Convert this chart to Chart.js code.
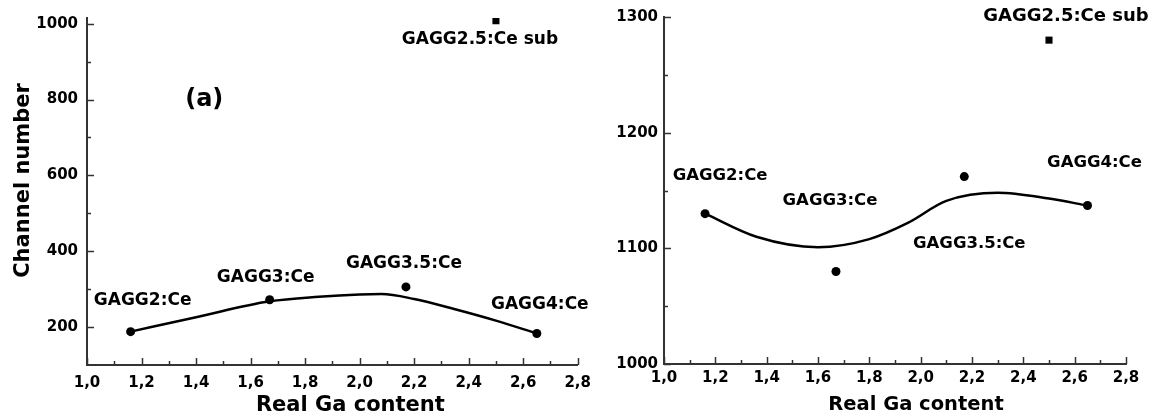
<!DOCTYPE html>
<html>
<head>
<meta charset="utf-8">
<script src="https://cdn.jsdelivr.net/npm/chart.js@4.4.1/dist/chart.umd.min.js"></script>
<style>
  body { margin: 0; background: #fff; }
  .wrap { position: relative; width: 1156px; height: 419px; }
  .panel { position: absolute; top: 0; }
  #panelA { left: 0; }
  #panelB { left: 600px; }
</style>
</head>
<body>
<div class="wrap">
  <div class="panel" id="panelA"><canvas id="chartA" width="600" height="419"></canvas></div>
  <div class="panel" id="panelB"><canvas id="chartB" width="556" height="419"></canvas></div>
</div>
<script>
// samples and their real Ga content
const gaContent = [1.16, 1.67, 2.17, 2.65];
const sampleNames = ['GAGG2:Ce', 'GAGG3:Ce', 'GAGG3.5:Ce', 'GAGG4:Ce'];
const subName = 'GAGG2.5:Ce sub';
const subGa = 2.5;

// panel (a): channel numbers
const channelA = [188, 272, 306, 183];
const subChannelA = 1008;
const fitGaA = [1.16, 1.4, 1.67, 1.85, 2.0, 2.08, 2.2, 2.35, 2.5, 2.65];
const fitChannelA = [188, 226, 268, 280, 286, 287, 274, 247, 217, 183];

// panel (b): channel numbers
const channelB = [1130, 1080, 1162, 1137];
const subChannelB = 1280;
const fitGaB = [1.16, 1.36, 1.6, 1.8, 1.95, 2.1, 2.3, 2.5, 2.65];
const fitChannelB = [1130, 1110, 1101, 1108, 1122, 1141, 1148, 1143, 1137];

// tick labels
const xTicks = [1.0, 1.2, 1.4, 1.6, 1.8, 2.0, 2.2, 2.4, 2.6, 2.8];
const yTicksA = [200, 400, 600, 800, 1000];
const yTicksB = [1000, 1100, 1200, 1300];

const FONT = '"DejaVu Sans", "Liberation Sans", Arial, sans-serif';

// inward major/minor tick marks on the bottom and left axes
const axisMarks = {
  id: 'axisMarks',
  afterDraw(chart) {
    const { ctx, chartArea: area, scales } = chart;
    ctx.save();
    ctx.strokeStyle = '#333';
    ctx.lineWidth = 1.5;
    ctx.beginPath();
    const xs = scales.x.ticks.map(t => t.value);
    xs.forEach((v, i) => {
      const px = Math.round(scales.x.getPixelForValue(v)) + 0.5;
      ctx.moveTo(px, area.bottom);
      ctx.lineTo(px, area.bottom - 7);
      if (i < xs.length - 1) {
        const mx = Math.round(scales.x.getPixelForValue((v + xs[i + 1]) / 2)) + 0.5;
        ctx.moveTo(mx, area.bottom);
        ctx.lineTo(mx, area.bottom - 4);
      }
    });
    const ys = scales.y.ticks.map(t => t.value);
    ys.forEach((v, i) => {
      const py = Math.round(scales.y.getPixelForValue(v)) + 0.5;
      ctx.moveTo(area.left, py);
      ctx.lineTo(area.left + 7, py);
      if (i < ys.length - 1) {
        const my = Math.round(scales.y.getPixelForValue((v + ys[i + 1]) / 2)) + 0.5;
        ctx.moveTo(area.left, my);
        ctx.lineTo(area.left + 4, my);
      }
    });
    ctx.stroke();
    ctx.restore();
  }
};

// axis titles, placed by hand relative to the plot area
const axisTitles = {
  id: 'axisTitles',
  afterDraw(chart, args, opts) {
    const { ctx, chartArea: area } = chart;
    ctx.save();
    ctx.fillStyle = '#000';
    ctx.textAlign = 'center';
    ctx.textBaseline = 'middle';
    ctx.font = 'bold ' + opts.xSize + 'px ' + FONT;
    ctx.fillText('Real Ga content', (area.left + area.right) / 2 + opts.xShift, opts.xY);
    if (opts.yText) {
      ctx.translate(opts.yX, (area.top + area.bottom) / 2 + opts.yShift);
      ctx.rotate(-Math.PI / 2);
      ctx.font = 'bold 21px ' + FONT;
      ctx.fillText(opts.yText, 0, 0);
    }
    ctx.restore();
  }
};

// sample names next to each point
const sampleLabels = {
  id: 'sampleLabels',
  afterDatasetsDraw(chart, args, opts) {
    const { ctx } = chart;
    ctx.save();
    ctx.fillStyle = '#000';
    ctx.textAlign = 'center';
    ctx.textBaseline = 'middle';
    ctx.font = 'bold ' + opts.size + 'px ' + FONT;
    chart.getDatasetMeta(1).data.forEach((p, i) => {
      ctx.fillText(sampleNames[i], p.x + opts.offsets[i][0], p.y + opts.offsets[i][1]);
    });
    const sq = chart.getDatasetMeta(2).data[0];
    ctx.font = 'bold ' + opts.subSize + 'px ' + FONT;
    ctx.fillText(subName, sq.x + opts.subOffset[0], sq.y + opts.subOffset[1]);
    if (opts.tag) {
      ctx.font = 'bold 24px ' + FONT;
      const tx = chart.scales.x.getPixelForValue(opts.tag.x);
      const ty = chart.scales.y.getPixelForValue(opts.tag.y);
      ctx.fillText(opts.tag.text, tx, ty);
    }
    ctx.restore();
  }
};

function makePanel(id, p) {
  return new Chart(document.getElementById(id), {
    type: 'scatter',
    data: {
      datasets: [
        {
          data: p.fitX.map((x, i) => ({ x: x, y: p.fitY[i] })),
          showLine: true,
          borderColor: '#000',
          borderWidth: 2.5,
          pointRadius: 0,
          cubicInterpolationMode: 'monotone'
        },
        {
          data: gaContent.map((x, i) => ({ x: x, y: p.channel[i] })),
          pointStyle: 'circle',
          pointRadius: 4.5,
          backgroundColor: '#000',
          borderColor: '#000',
          borderWidth: 0
        },
        {
          data: [{ x: subGa, y: p.subChannel }],
          pointStyle: 'rect',
          pointRadius: 5,
          backgroundColor: '#000',
          borderWidth: 0
        }
      ]
    },
    options: {
      responsive: false,
      animation: false,
      layout: { padding: p.padding },
      plugins: {
        legend: { display: false },
        tooltip: { enabled: false },
        sampleLabels: {
          size: p.labelSize, subSize: p.subSize,
          offsets: p.offsets, subOffset: p.subOffset, tag: p.tag
        },
        axisTitles: p.titles
      },
      scales: {
        x: {
          type: 'linear',
          min: 1.0,
          max: 2.8,
          afterBuildTicks: s => { s.ticks = xTicks.map(v => ({ value: v })); },
          afterFit: s => { s.height = p.xHeight; },
          grid: { display: false, drawTicks: false },
          border: { display: true, color: '#333', width: 2 },
          ticks: {
            callback: v => v.toFixed(1).replace('.', ','),
            color: '#000',
            font: { family: FONT, size: 15, weight: 'bold' },
            padding: p.xPad,
            maxRotation: 0,
            autoSkip: false
          }
        },
        y: {
          type: 'linear',
          min: p.yMin,
          max: p.yMax,
          afterBuildTicks: s => { s.ticks = p.yTicks.map(v => ({ value: v })); },
          afterFit: s => { s.width = p.yWidth; },
          grid: { display: false, drawTicks: false },
          border: { display: true, color: '#333', width: 2 },
          ticks: {
            callback: v => String(v),
            color: '#000',
            font: { family: FONT, size: 15, weight: 'bold' },
            padding: p.yPad
          }
        }
      }
    },
    plugins: [axisMarks, axisTitles, sampleLabels]
  });
}

makePanel('chartA', {
  fitX: fitGaA, fitY: fitChannelA, channel: channelA, subChannel: subChannelA,
  yMin: 100, yMax: 1015, yTicks: yTicksA,
  padding: { top: 14, right: 20, bottom: 0, left: 0 },
  xHeight: 54, yWidth: 87, xPad: 9, yPad: 9, labelSize: 17, subSize: 17,
  titles: { xSize: 21, xShift: 18, xY: 406, yText: 'Channel number', yX: 24, yShift: -11 },
  offsets: [[12, -31], [-4, -22], [-2, -23], [3, -29]],
  subOffset: [-16, 19],
  tag: { text: '(a)', x: 1.43, y: 800 }
});

makePanel('chartB', {
  fitX: fitGaB, fitY: fitChannelB, channel: channelB, subChannel: subChannelB,
  yMin: 1000, yMax: 1300, yTicks: yTicksB,
  padding: { top: 17, right: 30, bottom: 0, left: 0 },
  xHeight: 55, yWidth: 64, xPad: 5, yPad: 6, labelSize: 16.5, subSize: 18,
  titles: { xSize: 19.5, xShift: 21, xY: 405, yText: null },
  offsets: [[15, -38], [-6, -71], [5, 67], [7, -43]],
  subOffset: [17, -24],
  tag: null
});
</script>
</body>
</html>
